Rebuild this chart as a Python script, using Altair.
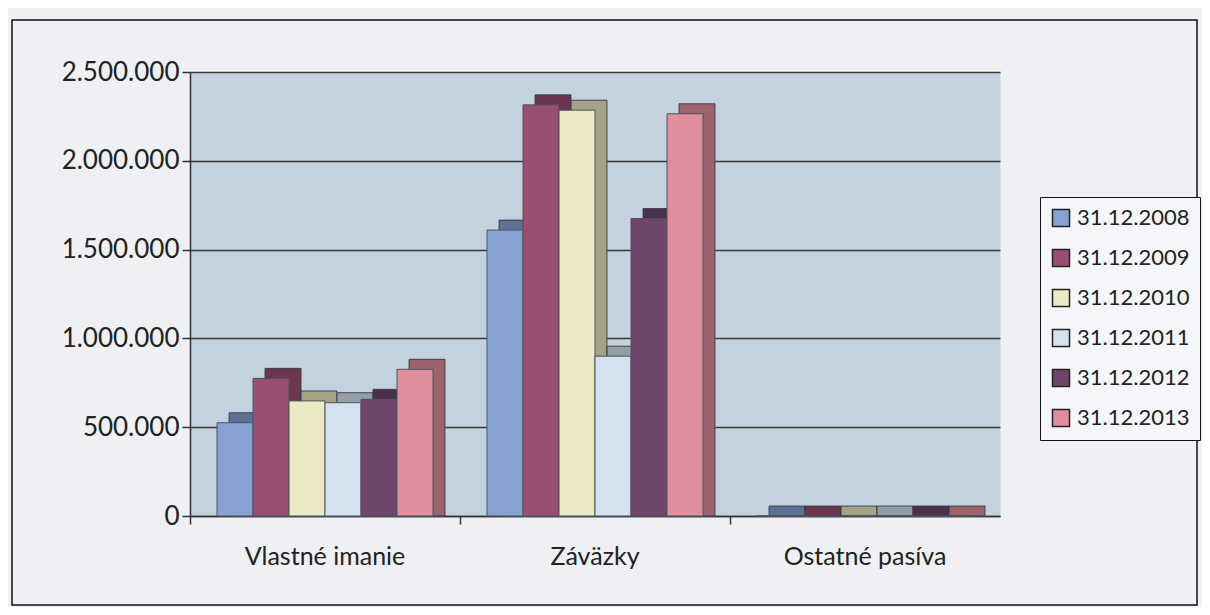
import altair as alt
import pandas as pd

categories = ["Vlastné imanie", "Záväzky", "Ostatné pasíva"]
series = ["31.12.2008", "31.12.2009", "31.12.2010", "31.12.2011", "31.12.2012", "31.12.2013"]
v2008 = [525000, 1610000, 0]
v2009 = [775000, 2315000, 0]
v2010 = [648000, 2285000, 0]
v2011 = [638000, 900000, 0]
v2012 = [657000, 1675000, 0]
v2013 = [826000, 2265000, 0]
colors = ["#87a2d2", "#9b4e73", "#ede9c3", "#d3e2ee", "#6f4569", "#e08e9d"]
y_ticks = [0, 500000, 1000000, 1500000, 2000000, 2500000]

rows = []
for s, vals in zip(series, [v2008, v2009, v2010, v2011, v2012, v2013]):
    for c, v in zip(categories, vals):
        rows.append({"kategoria": c, "obdobie": s, "hodnota": v})
df = pd.DataFrame(rows)

W, H = 810, 444
FONT = "Lato"
band = W / (3 - 0.2 + 0.2) * 0.8
dx, dy = 12, 10

x_enc = alt.X(
    "kategoria:N",
    sort=categories,
    scale=alt.Scale(domain=categories, paddingInner=0.2, paddingOuter=0.1),
    axis=alt.Axis(
        title=None, labelAngle=0, labelFont=FONT, labelFontSize=25, labelColor="#222",
        labelPadding=20, tickSize=8, tickColor="#333", tickWidth=1.5,
        domainColor="#333", domainWidth=1.5, grid=False, bandPosition=-0.125,
    ),
)
y_enc = alt.Y(
    "hodnota:Q",
    stack=False,
    scale=alt.Scale(domain=[0, 2500000], nice=False),
    axis=alt.Axis(
        title=None, values=y_ticks, grid=True,
        labelExpr="replace(format(datum.value, ','), /,/g, '.')",
        labelFont=FONT, labelFontSize=26, labelColor="#222", labelPadding=3,
        tickSize=8, tickColor="#333", tickWidth=1.5, domainColor="#333", domainWidth=1.5,
        gridColor="#3a3a3a", gridWidth=1.5,
    ),
)
color_enc = alt.Color(
    "obdobie:N",
    sort=series,
    scale=alt.Scale(domain=series, range=colors),
    legend=alt.Legend(
        title=None, orient="none", legendX=850, legendY=125, direction="vertical",
        labelFont=FONT, labelFontSize=22, labelColor="#222", labelOffset=5,
        symbolType="square", symbolSize=289, symbolStrokeColor="#222",
        symbolStrokeWidth=1.5, symbolOpacity=1, rowPadding=16, padding=10,
        strokeColor="#111", fillColor="#f5f6f9",
    ),
)
xoff_back = alt.XOffset("obdobie:N", sort=series, scale=alt.Scale(domain=series, range=[dx, band + dx]))
xoff_front = alt.XOffset("obdobie:N", sort=series, scale=alt.Scale(domain=series, range=[0, band]))

base = alt.Chart(df)

# 3D depth blocks: top lifted by dy, base kept on the zero line
back = base.mark_bar(yOffset=-dy, stroke="#4b545c", strokeWidth=1).encode(
    x=x_enc, y=y_enc, y2=alt.Y2(datum=0), color=color_enc, xOffset=xoff_back,
)
shade = base.mark_bar(yOffset=-dy, color="#000000", opacity=0.3).encode(
    x=x_enc, y=y_enc, y2=alt.Y2(datum=0), xOffset=xoff_back,
)
front = base.mark_bar(stroke="#4b545c", strokeWidth=1).encode(
    x=x_enc, y=y_enc, color=color_enc, xOffset=xoff_front,
)
frame = alt.Chart(alt.Data(values=[{}])).mark_rect(fillOpacity=0, stroke="#111", strokeWidth=1.5).encode(
    x=alt.value(-178), x2=alt.value(1007), y=alt.value(-52), y2=alt.value(533)
)

chart = (
    alt.layer(back, shade, front, frame)
    .resolve_scale(xOffset="independent")
    .properties(
        width=W, height=H,
        autosize=alt.AutoSizeParams(type="none"),
        padding={"left": 182, "top": 64, "right": 202, "bottom": 91},
        background="#eef0f4",
    )
    .configure_view(fill="#c4d1de", stroke="transparent")
)

chart.save("out.html", embed_options={"renderer": "svg", "actions": False})
